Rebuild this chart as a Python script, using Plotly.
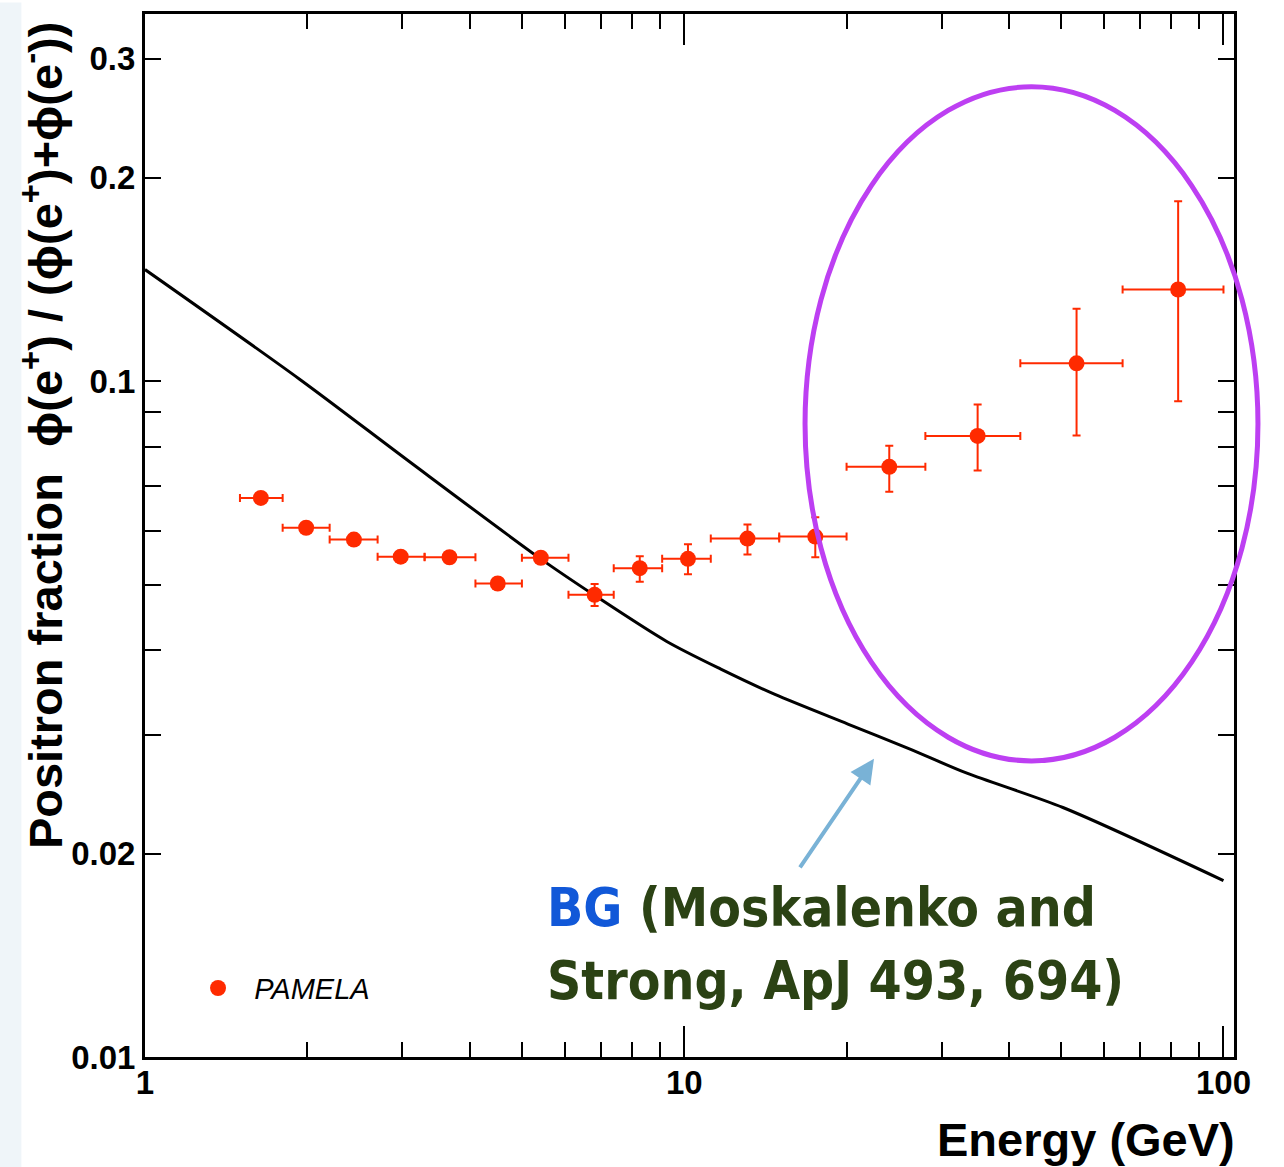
import plotly.graph_objects as go

# PAMELA positron fraction measurements
energy = [1.64, 1.99, 2.44, 2.98, 3.67, 4.51, 5.42, 6.82, 8.27, 10.16, 13.1, 17.5, 24.0, 35.0, 53.4, 82.4]
e_low = [1.5, 1.8, 2.2, 2.7, 3.3, 4.1, 5.0, 6.1, 7.4, 9.1, 11.2, 15.0, 20.0, 28.0, 42.0, 65.0]
e_high = [1.8, 2.2, 2.7, 3.3, 4.1, 5.0, 6.1, 7.4, 9.1, 11.2, 15.0, 20.0, 28.0, 42.0, 65.0, 100.0]
fraction = [0.0672, 0.0607, 0.0583, 0.0550, 0.0549, 0.0502, 0.0548, 0.0483,
            0.0529, 0.0546, 0.0585, 0.0589, 0.0747, 0.0830, 0.1063, 0.1367]
frac_err_up = [0, 0, 0, 0, 0, 0, 0, 0.0018, 0.0022, 0.0028, 0.0029, 0.0040, 0.0056, 0.0094, 0.0217, 0.0480]
frac_err_down = [0, 0, 0, 0, 0, 0, 0, 0.0018, 0.0024, 0.0028, 0.0031, 0.0040, 0.0061, 0.0092, 0.0232, 0.0433]

# Secondary-production background (Moskalenko & Strong)
bg_energy = [1.0, 1.935, 3.095, 5.418, 6.823, 9.28, 11.69, 14.73, 20.11, 26.09, 33.43, 50.38, 100.0]
bg_fraction = [0.1463, 0.1007, 0.0760, 0.0546, 0.0482, 0.0412, 0.0375,
               0.0344, 0.0311, 0.0286, 0.0263, 0.0234, 0.01824]

x_major = [1, 10, 100]
x_major_text = ["1", "10", "100"]
x_minor = [2, 3, 4, 5, 6, 7, 8, 9, 20, 30, 40, 50, 60, 70, 80, 90]
y_labels = [0.01, 0.02, 0.1, 0.2, 0.3]
y_labels_text = ["0.01", "0.02", "0.1", "0.2", "0.3"]
y_minor = [0.03, 0.04, 0.05, 0.06, 0.07, 0.08, 0.09]
y_long = [0.01, 0.1]

RED = "#ff2a00"
X_RANGE = [0, 2.0195]
Y_RANGE = [-2, -0.4565]

fig = go.Figure()

fig.add_trace(go.Scatter(
    x=bg_energy, y=bg_fraction, mode="lines",
    line=dict(color="black", width=3, shape="spline", smoothing=0.8),
    showlegend=False, hoverinfo="skip",
))

fig.add_trace(go.Scatter(
    x=energy, y=fraction, mode="markers", name="&nbsp;&nbsp;PAMELA",
    marker=dict(color=RED, size=16),
    error_x=dict(type="data", symmetric=False,
                 array=[h - e for h, e in zip(e_high, energy)],
                 arrayminus=[e - l for e, l in zip(energy, e_low)],
                 color=RED, thickness=2, width=4),
    error_y=dict(type="data", symmetric=False,
                 array=frac_err_up, arrayminus=frac_err_down,
                 color=RED, thickness=2, width=4),
))

tick_font = dict(family="Liberation Sans", size=33, color="black", weight="bold")

fig.update_layout(
    width=1284, height=1167,
    margin=dict(l=145, r=50, t=11, b=110),
    paper_bgcolor="white", plot_bgcolor="white",
    showlegend=True,
    legend=dict(x=0.0487, y=0.066, xanchor="left", yanchor="middle",
                bgcolor="rgba(0,0,0,0)",
                font=dict(family="Liberation Sans", size=29, style="italic", color="black")),
    xaxis=dict(
        type="log", range=X_RANGE,
        tickmode="array", tickvals=x_major, ticktext=x_major_text,
        ticks="inside", ticklen=31, tickwidth=2, tickcolor="black",
        minor=dict(tickmode="array", tickvals=x_minor, ticks="inside",
                   ticklen=15, tickwidth=2, tickcolor="black", showgrid=False),
        showline=True, linewidth=3, linecolor="black", mirror="ticks",
        showgrid=False, zeroline=False, tickfont=tick_font,
        ticklabelstandoff=-6,
    ),
    yaxis=dict(
        type="log", range=Y_RANGE,
        tickmode="array", tickvals=y_labels, ticktext=y_labels_text,
        ticks="inside", ticklen=16, tickwidth=2, tickcolor="black",
        minor=dict(tickmode="array", tickvals=y_minor, ticks="inside",
                   ticklen=16, tickwidth=2, tickcolor="black", showgrid=False),
        showline=True, linewidth=3, linecolor="black", mirror="ticks",
        showgrid=False, zeroline=False, tickfont=tick_font,
    ),
    yaxis2=dict(
        type="log", range=Y_RANGE, overlaying="y", anchor="x", side="left",
        tickmode="array", tickvals=y_long, showticklabels=False,
        ticks="inside", ticklen=32, tickwidth=2, tickcolor="black",
        mirror="ticks", showline=False, showgrid=False, zeroline=False,
    ),
)

# Axis titles
fig.add_annotation(
    text="Positron fraction&nbsp;&nbsp;ϕ(e<sup>+</sup>) / (ϕ(e<sup>+</sup>)+ϕ(e<sup>-</sup>))",
    xref="paper", yref="paper", x=-0.0945, y=0.1975,
    xanchor="center", yanchor="bottom", textangle=-90, showarrow=False,
    font=dict(family="Liberation Sans", size=47, color="black", weight="bold"),
)
fig.add_annotation(
    text="Energy (GeV)", xref="paper", yref="paper", x=1.0028, y=-0.0793,
    xanchor="right", yanchor="middle", showarrow=False,
    font=dict(family="Liberation Sans", size=47, color="black", weight="bold"),
)

# Highlighted high-energy region
fig.add_shape(type="circle", xref="paper", yref="paper",
              x0=0.6061, x1=1.0220, y0=0.2839, y1=0.9302,
              line=dict(color="#bd3ff2", width=5))

# Background-model label and arrow
fig.add_annotation(
    text="", xref="paper", yref="paper", x=0.6694, y=0.2859,
    ax=-75, ay=110, axref="pixel", ayref="pixel",
    showarrow=True, arrowhead=2, arrowsize=1.2, arrowwidth=4, arrowcolor="#79b2d6",
)
label_font = dict(family="DejaVu Sans Condensed, Liberation Sans", size=53,
                  color="#2b4214", weight="bold")
fig.add_annotation(
    text="<span style='color:#1158d8'>BG</span> (Moskalenko and",
    xref="paper", yref="paper", x=0.3673, y=0.143,
    xanchor="left", yanchor="middle", showarrow=False, font=label_font,
)
fig.add_annotation(
    text="Strong, ApJ 493, 694)",
    xref="paper", yref="paper", x=0.3673, y=0.073,
    xanchor="left", yanchor="middle", showarrow=False, font=label_font,
)

# Pale strip along the left page edge
fig.add_shape(type="rect", xref="paper", yref="paper", layer="below",
              x0=-0.1332, x1=-0.1135, y0=-0.106, y1=1.011,
              fillcolor="#eff5f9", line=dict(width=0))

fig.write_html("out.html")
